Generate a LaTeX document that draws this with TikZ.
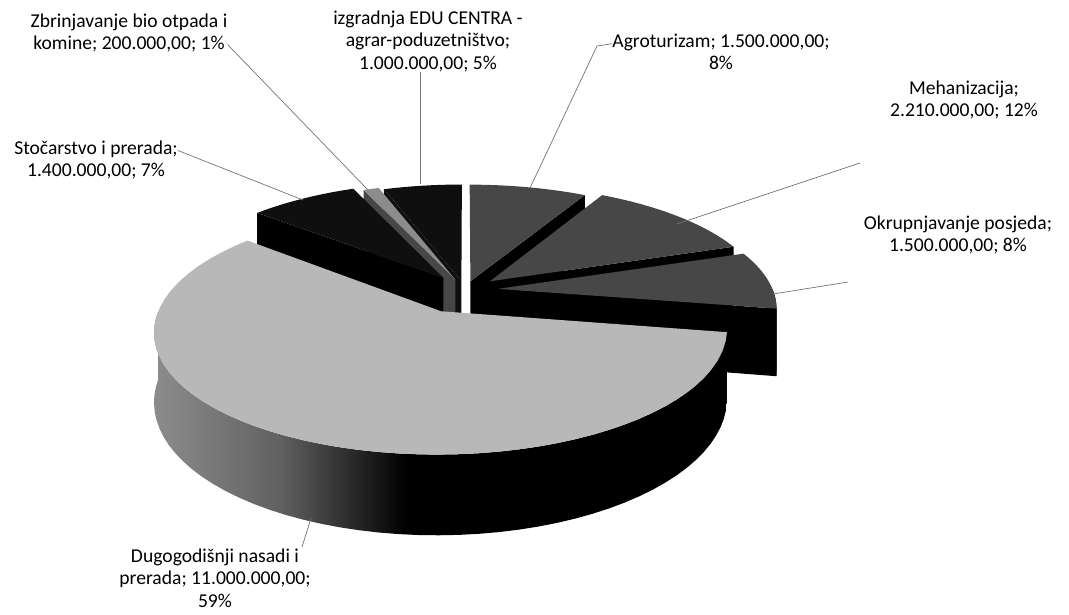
\documentclass[tikz,border=0pt]{standalone}
\usepackage{fontspec}
\setmainfont{Carlito}
\definecolor{dugtop}{gray}{0.72}
\definecolor{dugleft}{gray}{0.55}
\definecolor{dugmid}{gray}{0.38}
\definecolor{slicedark}{gray}{0.28}
\definecolor{slicegray}{gray}{0.55}
\definecolor{sliceblack}{gray}{0.06}
\definecolor{leadgray}{gray}{0.45}
\pgfdeclarehorizontalshading{dugshade}{100bp}{color(0bp)=(dugleft); color(25bp)=(dugleft); color(36bp)=(dugmid); color(47bp)=(black); color(100bp)=(black)}
% one slice: angles, explode along the middle angle
\newcommand{\setslice}[3]{\pgfmathsetmacro{\slo}{#1}\pgfmathsetmacro{\shi}{#2}%
  \pgfmathsetmacro{\seu}{#3*cos((#1+#2)/2)}\pgfmathsetmacro{\sev}{#3*sin((#1+#2)/2)}}
\newcommand{\slicetop}[1]{\fill[#1] ({sx(\seu,\sev)},{sy(\seu,\sev)})
  -- plot[domain=\slo:\shi, samples=50, variable=\t] ({sx(\seu+cos(\t),\sev+sin(\t))},{sy(\seu+cos(\t),\sev+sin(\t))}) -- cycle;}
\newcommand{\sliceface}[2]{\fill[#2] ({sx(\seu,\sev)},{sy(\seu,\sev)})
  -- ({sx(\seu+cos(#1),\sev+sin(#1))},{sy(\seu+cos(#1),\sev+sin(#1))})
  -- ({sx(\seu+cos(#1),\sev+sin(#1))},{sb(\seu+cos(#1),\sev+sin(#1))})
  -- ({sx(\seu,\sev)},{sb(\seu,\sev)}) -- cycle;}
\newcommand{\slicerim}[3]{\path[#3] plot[domain=#1:#2, samples=50, variable=\t] ({sx(\seu+cos(\t),\sev+sin(\t))},{sy(\seu+cos(\t),\sev+sin(\t))})
  -- plot[domain=#2:#1, samples=50, variable=\t] ({sx(\seu+cos(\t),\sev+sin(\t))},{sb(\seu+cos(\t),\sev+sin(\t))}) -- cycle;}
\begin{document}
\begin{tikzpicture}[x=1pt, y=-1pt,
    declare function={ww(\y)=1/(1+0.154*\y); sx(\x,\y)=465+275*\x*ww(\y);
      sy(\x,\y)=290-114*\y*ww(\y); sb(\x,\y)=sy(\x,\y)+66*ww(\y);},
    lbl/.style={align=center, font=\fontsize{19.6}{22.5}\selectfont, inner sep=0pt},
    leader/.style={draw=leadgray, line width=0.7pt}]
\useasboundingbox (0,0) rectangle (1069,614);
% back slices first
\setslice{90}{109.14}{0.08}% EDU
\sliceface{109.14}{sliceblack}
\slicetop{sliceblack}
\setslice{109.14}{112.97}{0.10}% bio otpad
\sliceface{112.97}{slicedark}
\slicetop{slicegray}
\setslice{112.97}{139.76}{0.135}% stocarstvo
\sliceface{139.76}{black}
\slicetop{sliceblack}
\setslice{61.29}{90}{0.08}% agroturizam
\sliceface{61.29}{black}
\slicetop{slicedark}
\setslice{19.00}{61.29}{0.12}% mehanizacija
\sliceface{19.00}{black}
\slicetop{slicedark}
\setslice{-9.71}{19.00}{0.12}% okrupnjavanje
\sliceface{-9.71}{black}
\slicerim{-9.71}{0}{fill=black}
\slicetop{slicedark}
\setslice{139.76}{350.29}{0.2}% dugogodisnji nasadi
\slicerim{180}{350.29}{shade, shading=dugshade}
\slicetop{dugtop}
% labels
\node[lbl] (zbrlbl) at (129,33) {Zbrinjavanje bio otpada i\\komine; 200.000,00; 1\%};
\node[lbl] (edulbl) at (428,41) {izgradnja EDU CENTRA -\\agrar-poduzetništvo;\\1.000.000,00; 5\%};
\node[lbl] (agrolbl) at (721,52) {Agroturizam; 1.500.000,00;\\8\%};
\node[lbl] (mehlbl) at (964,100) {Mehanizacija;\\2.210.000,00; 12\%};
\node[lbl] (okrlbl) at (958,235) {Okrupnjavanje posjeda;\\1.500.000,00; 8\%};
\node[lbl] (stolbl) at (96,160) {Stočarstvo i prerada;\\1.400.000,00; 7\%};
\node[lbl] (duglbl) at (215,578) {Dugogodišnji nasadi i\\prerada; 11.000.000,00;\\59\%};
% leader lines
\coordinate (zbrpt) at (368,190);
\coordinate (edupt) at (420,184);
\coordinate (agrobend) at (597,46);
\coordinate (agropt) at (530,188);
\coordinate (mehend) at (860,163);
\coordinate (mehpt) at (677,224);
\coordinate (okrend) at (848,282);
\coordinate (okrpt) at (773,294);
\coordinate (stopt) at (303,200);
\coordinate (dugend) at (302,547);
\coordinate (dugpt) at (311,518);
\draw[leader] ([yshift=8pt]zbrlbl.south east) -- (zbrpt);
\draw[leader] (edulbl.south -| edupt) -- (edupt);
\draw[leader] ([yshift=-10pt]agrolbl.north west) -- (agrobend) -- (agropt);
\draw[leader] (mehend) -- (mehpt);
\draw[leader] (okrend) -- (okrpt);
\draw[leader] ([yshift=-10pt]stolbl.north east) -- (stopt);
\draw[leader] (dugend) -- (dugpt);
\end{tikzpicture}
\end{document}
